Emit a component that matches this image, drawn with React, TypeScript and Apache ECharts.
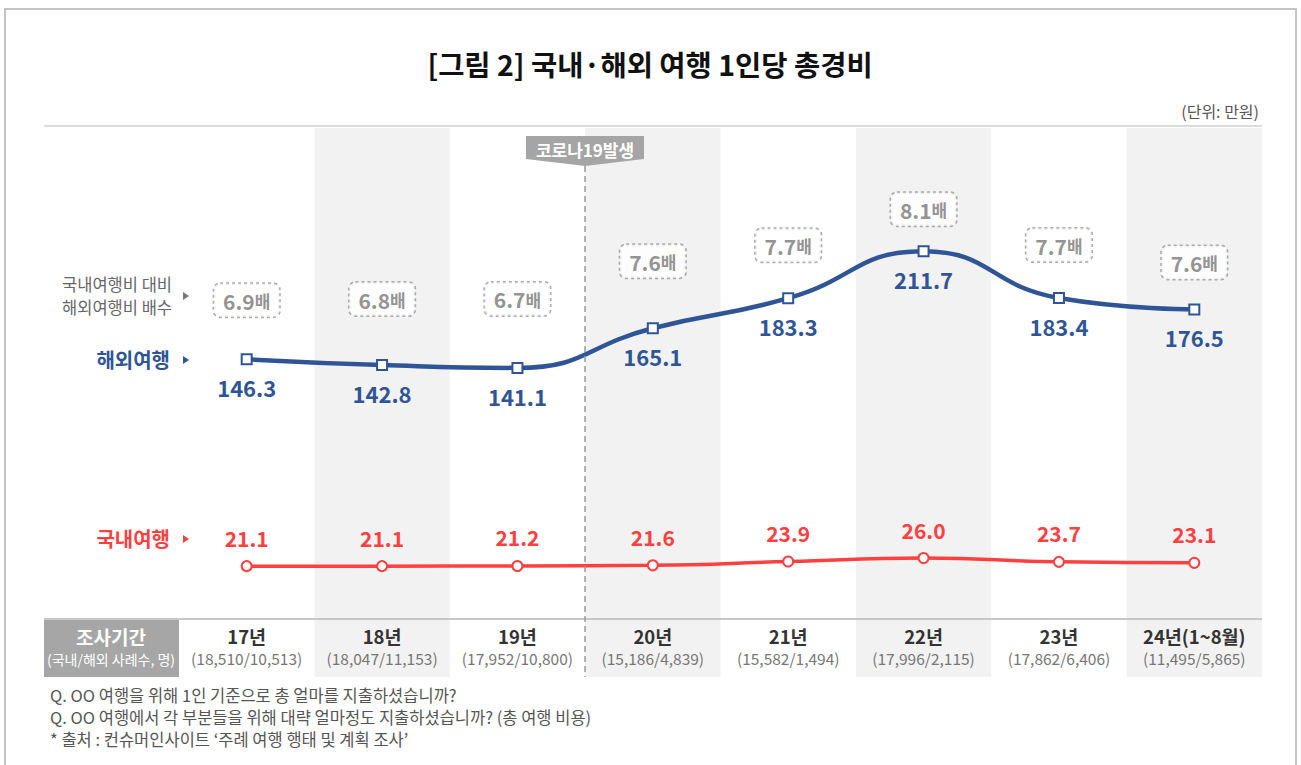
import React, { useEffect, useRef } from "react";
import * as echarts from "echarts";

const FONT = "'Noto Sans CJK KR', 'Noto Sans', sans-serif";

const categories = ["17년", "18년", "19년", "20년", "21년", "22년", "23년", "24년(1~8월)"];
const sampleCounts = [
  "(18,510/10,513)",
  "(18,047/11,153)",
  "(17,952/10,800)",
  "(15,186/4,839)",
  "(15,582/1,494)",
  "(17,996/2,115)",
  "(17,862/6,406)",
  "(11,495/5,865)",
];
const overseas = [146.3, 142.8, 141.1, 165.1, 183.3, 211.7, 183.4, 176.5];
const domestic = [21.1, 21.1, 21.2, 21.6, 23.9, 26.0, 23.7, 23.1];
const ratio = [6.9, 6.8, 6.7, 7.6, 7.7, 8.1, 7.7, 7.6];

// layout: how far above each overseas point its ratio box sits (px)
const ratioLift = [-59, -66, -69, -67, -53, -42, -53, -47];

const BLUE = "#2f5597";
const RED = "#ff4040";

function txt(x: number, y: number, text: string, o: any = {}) {
  const size = o.size || 15;
  return {
    type: "text",
    x,
    y,
    z: 100,
    silent: true,
    style: {
      text,
      fontFamily: FONT,
      fontSize: size,
      lineHeight: o.lineHeight || Math.round(size * 1.2),
      fontWeight: o.weight || "normal",
      fill: o.color || "#555",
      align: o.align || "left",
      verticalAlign: "middle",
    },
  };
}

function tri(x: number, y: number, color: string) {
  return {
    type: "polygon",
    z: 100,
    silent: true,
    shape: { points: [[x, y - 4], [x, y + 4], [x + 6, y]] },
    style: { fill: color },
  };
}

export default function App() {
  const ref = useRef<HTMLDivElement>(null);
  useEffect(() => {
    if (!ref.current) return;
    const chart = echarts.init(ref.current, null, { renderer: "svg" });
    const option: any = {
      animation: false,
      backgroundColor: "#fff",
      textStyle: { fontFamily: FONT },
      grid: { left: 179, right: 39, top: 128, bottom: 88 },
      xAxis: {
        type: "category",
        data: categories,
        boundaryGap: true,
        axisLine: { show: false },
        axisTick: { show: false },
        splitLine: { show: false },
        splitArea: { show: true, areaStyle: { color: ["rgba(255,255,255,0)", "#f2f2f2"] } },
        axisLabel: {
          inside: true,
          margin: 8,
          interval: 0,
          formatter: (v: string, i: number) => `{a|${v}}\n{b|${sampleCounts[i]}}`,
          rich: {
            a: { fontFamily: FONT, fontSize: 18.5, fontWeight: "bold", color: "#333", lineHeight: 22 },
            b: { fontFamily: FONT, fontSize: 15.5, color: "#777", lineHeight: 22 },
          },
        },
      },
      yAxis: { type: "value", min: -46, max: 286.3, show: false },
      series: [
        {
          type: "line",
          data: overseas,
          smooth: 0.5,
          symbol: "rect",
          symbolSize: 10,
          z: 5,
          lineStyle: { color: BLUE, width: 4.5 },
          itemStyle: { color: "#fff", borderColor: BLUE, borderWidth: 2 },
          label: {
            show: true,
            position: "bottom",
            distance: 11,
            fontFamily: FONT,
            fontSize: 22,
            fontWeight: "bold",
            color: BLUE,
            formatter: (p: any) => Number(p.value).toFixed(1),
          },
        },
        {
          type: "line",
          data: domestic,
          smooth: 0.5,
          symbol: "circle",
          symbolSize: 10,
          z: 5,
          lineStyle: { color: RED, width: 3.5 },
          itemStyle: { color: "#fff", borderColor: RED, borderWidth: 2 },
          label: {
            show: true,
            position: "top",
            distance: 12,
            fontFamily: FONT,
            fontSize: 21,
            fontWeight: "bold",
            color: RED,
            formatter: (p: any) => Number(p.value).toFixed(1),
          },
        },
        {
          type: "scatter",
          z: 6,
          symbolSize: 1,
          itemStyle: { color: "rgba(0,0,0,0)" },
          data: overseas.map((v, i) => ({
            value: v,
            label: { offset: [0, ratioLift[i]] },
          })),
          label: {
            show: true,
            position: "inside",
            formatter: (p: any) => `{n|${ratio[p.dataIndex].toFixed(1)}}{u|배}`,
            backgroundColor: "#fff",
            borderColor: "#999",
            borderWidth: 1.5,
            borderType: "dotted",
            borderRadius: 6,
            padding: [5, 9, 4, 9],
            rich: {
              n: { fontFamily: FONT, fontSize: 21, fontWeight: "bold", color: "#777", lineHeight: 24 },
              u: { fontFamily: FONT, fontSize: 17, fontWeight: "bold", color: "#777", lineHeight: 24 },
            },
          },
        },
      ],
      graphic: [
        {
          type: "rect",
          z: 100,
          silent: true,
          shape: { x: 5, y: 9, width: 1291, height: 800 },
          style: { fill: "none", stroke: "#c4c4c4", lineWidth: 2 },
        },
        txt(650, 63, "[그림 2] 국내·해외 여행 1인당 총경비", { size: 28.5, weight: "bold", color: "#111", align: "center" }),
        txt(1259, 111, "(단위: 만원)", { size: 16, align: "right", color: "#555" }),
        {
          type: "line",
          z: 100,
          silent: true,
          shape: { x1: 44, y1: 126, x2: 1262, y2: 126 },
          style: { stroke: "#dcdcdc", lineWidth: 2 },
        },
        {
          type: "line",
          z: 100,
          silent: true,
          shape: { x1: 44, y1: 619, x2: 1262, y2: 619 },
          style: { stroke: "#c8c8c8", lineWidth: 2 },
        },
        {
          type: "line",
          z: 100,
          silent: true,
          shape: { x1: 585, y1: 166, x2: 585, y2: 677 },
          style: { stroke: "#9a9a9a", lineWidth: 1.5, lineDash: [6, 4] },
        },
        {
          type: "polygon",
          z: 100,
          silent: true,
          shape: { points: [[526, 136], [644, 136], [644, 159], [585, 166], [526, 159]] },
          style: { fill: "#a5a5a5" },
        },
        txt(585, 149, "코로나19발생", { size: 17, weight: "bold", color: "#fff", align: "center" }),
        txt(172, 284, "국내여행비 대비", { size: 16.5, color: "#666", align: "right" }),
        txt(172, 307, "해외여행비 배수", { size: 16.5, color: "#666", align: "right" }),
        tri(183, 296, "#777"),
        txt(170, 359, "해외여행", { size: 20, weight: "bold", color: BLUE, align: "right" }),
        tri(183, 360, BLUE),
        txt(170, 538, "국내여행", { size: 20, weight: "bold", color: RED, align: "right" }),
        tri(183, 539, RED),
        {
          type: "rect",
          z: 100,
          silent: true,
          shape: { x: 44, y: 620, width: 135, height: 57 },
          style: { fill: "#a6a6a6" },
        },
        txt(111, 636, "조사기간", { size: 19, weight: "bold", color: "#fff", align: "center" }),
        txt(111, 659, "(국내/해외 사례수, 명)", { size: 14, color: "#fff", align: "center" }),
        txt(50, 695, "Q. OO 여행을 위해 1인 기준으로 총 얼마를 지출하셨습니까?", { size: 16.5, lineHeight: 19, color: "#555" }),
        txt(50, 717, "Q. OO 여행에서 각 부분들을 위해 대략 얼마정도 지출하셨습니까? (총 여행 비용)", { size: 16.5, lineHeight: 19, color: "#555" }),
        txt(50, 739, "* 출처 : 컨슈머인사이트 ‘주례 여행 행태 및 계획 조사’", { size: 16.5, lineHeight: 19, color: "#555" }),
      ],
    };
    chart.setOption(option);
    return () => chart.dispose();
  }, []);
  return (
    <div
      ref={ref}
      style={{ position: "fixed", left: 0, top: 0, width: 1301, height: 765, background: "#fff" }}
    />
  );
}
